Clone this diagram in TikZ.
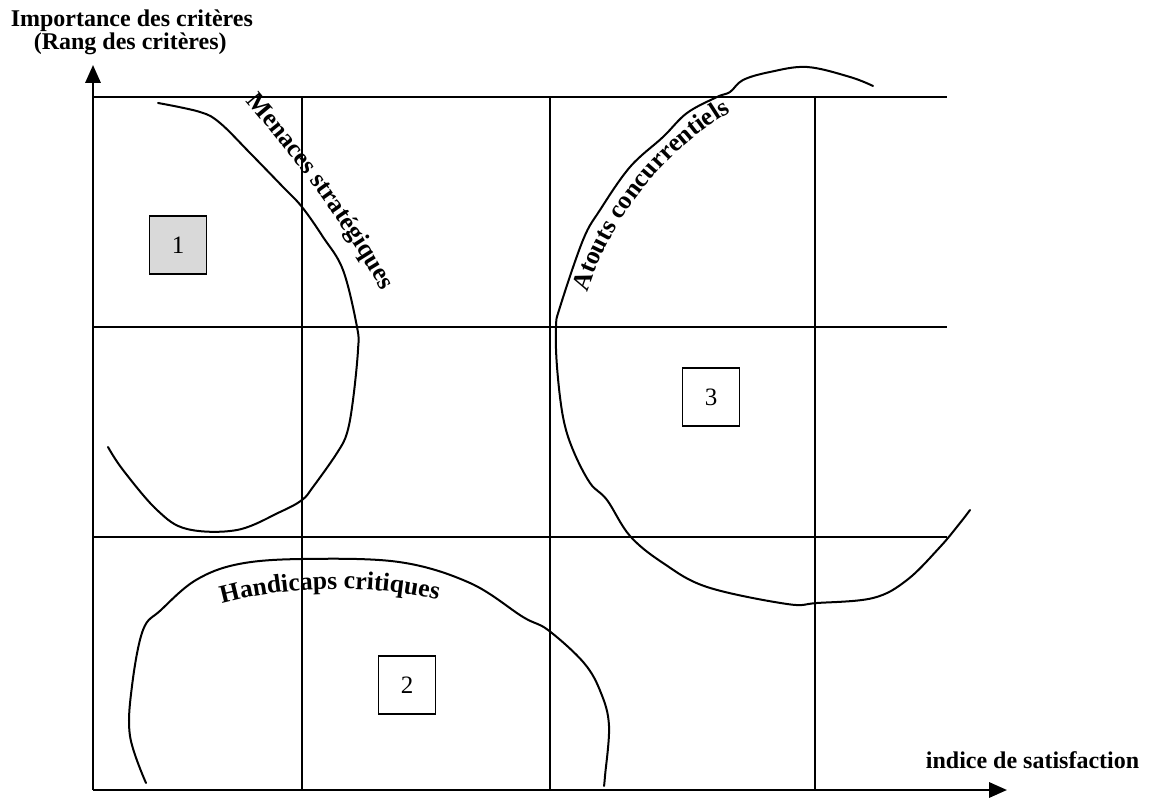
\documentclass[tikz,border=0pt]{standalone}
\usepackage{fontspec}
\setmainfont{Liberation Serif}
\usetikzlibrary{arrows.meta,decorations.text}
\newcommand\zonefont{\bfseries\fontsize{6.4}{6.4}\selectfont}
\begin{document}
\begin{tikzpicture}[x=0.25pt,y=-0.25pt,
  gridline/.style={line width=0.5pt},
  axisline/.style={line width=0.65pt,-{Triangle[length=4.5pt,width=3.8pt]}},
  zone/.style={line width=0.5pt,line join=round,line cap=round},
  numbox/.style={draw,line width=0.4pt,minimum width=14.25pt,minimum height=14.5pt,inner sep=0pt,font=\fontsize{6.25}{6.25}\selectfont},
  axlabel/.style={font=\bfseries\fontsize{6}{6}\selectfont,inner sep=0pt},
  zonetext/.style={decorate,decoration={text along path,text align=center,text={|\zonefont|#1}}}
]
\useasboundingbox (0,0) rectangle (1151,798);
% axes
\coordinate (O) at (93,790);
\coordinate (ytip) at (93,65);
\coordinate (xtip) at (1007,790);
\draw[axisline] (O) -- (ytip);
\draw[axisline] (O) -- (xtip);
% grid
\draw[gridline] (93,97) -- (947,97);
\draw[gridline] (93,327) -- (947,327);
\draw[gridline] (93,537) -- (947,537);
\draw[gridline] (302,97) -- (302,790);
\draw[gridline] (550,97) -- (550,790);
\draw[gridline] (815,97) -- (815,790);
% axis labels
\node[axlabel,anchor=base west] (ylab1) at (10,27) {Importance des critères};
\node[axlabel,anchor=base west] (ylab2) at (33,50) {(Rang des critères)};
\node[axlabel,anchor=base east] (xlab) at (1140,768) {indice de satisfaction};
% zones
\draw[zone] plot[smooth,tension=0.6] coordinates {(158,103)(200,112)(220,123)(250,153)(283,187)(302,207)(323,237)(343,270)(357,327)(358,350)(353,400)(347,433)(337,453)(313,487)(302,500)(280,512)(237,530)(187,529)(157,510)(123,470)(108,447)};
\draw[zone] plot[smooth,tension=0.6] coordinates {(873,86)(850,77)(807,67)(770,72)(743,80)(730,92)(717,97)(687,113)(663,137)(630,167)(600,210)(583,240)(560,307)(556,327)(557,367)(563,417)(573,450)(590,483)(607,500)(630,536)(663,563)(707,587)(787,604)(817,603)(873,598)(907,580)(940,547)(960,523)(970,510)};
\draw[zone] plot[smooth,tension=0.6] coordinates {(146,783)(130,736)(132,686)(143,630)(161,610)(196,580)(239,564)(303,559)(399,562)(470,583)(523,617)(548,630)(584,663)(601,693)(609,726)(605,776)(604,786)};
% curved labels
\path[zonetext={Menaces stratégiques}] (232,85) .. controls (275,135) and (345,220) .. (392,310);
\path[zonetext={Atouts concurrentiels}] (585,300) .. controls (605,230) and (660,150) .. (738,108);
\path[zonetext={Handicaps critiques}] (170,625) .. controls (240,580) and (420,575) .. (490,622);
% numbered boxes
\node[numbox,fill=gray!30] (b1) at (178,245) {1};
\node[numbox] (b2) at (407,685) {2};
\node[numbox] (b3) at (711,397) {3};
\end{tikzpicture}
\end{document}
